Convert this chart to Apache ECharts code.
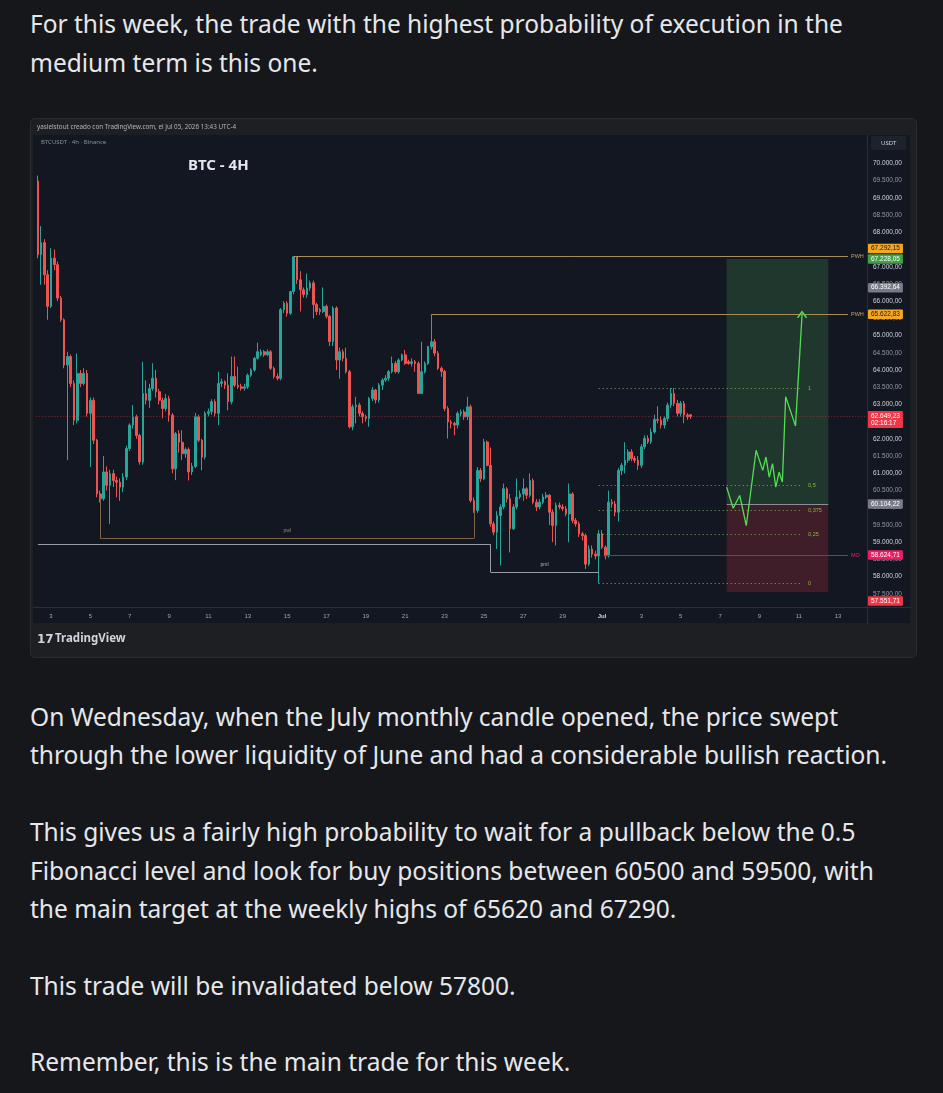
<!DOCTYPE html>
<html>
<head>
<meta charset="utf-8">
<script src="https://cdn.jsdelivr.net/npm/echarts@6/dist/echarts.min.js"></script>
<style>
  body { margin: 0; width: 943px; height: 1093px; overflow: hidden; background: #16171b;
         font-family: 'Noto Sans', 'Open Sans', sans-serif; color: #e6e7ea; }
  .ln { position: absolute; left: 30px; height: 38px; line-height: 38px; font-size: 24.5px; white-space: nowrap; }
  .card { position: absolute; left: 30px; top: 118px; width: 885px; height: 538px;
          background: #1e1f23; border: 1px solid #2b2c30; border-radius: 5px; }
  .plot { position: absolute; left: 2px; top: 16px; width: 877px; height: 488px; background: #131722; }
  #chart { position: absolute; left: -1px; top: -1px; width: 887px; height: 540px; }
</style>
</head>
<body>
<div class="ln" style="top:5px">For this week, the trade with the highest probability of execution in the</div>
<div class="ln" style="top:44px">medium term is this one.</div>

<div class="card">
  <div class="plot"></div>
  <div id="chart"></div>
</div>

<div class="ln" style="top:698px">On Wednesday, when the July monthly candle opened, the price swept</div>
<div class="ln" style="top:736px">through the lower liquidity of June and had a considerable bullish reaction.</div>
<div class="ln" style="top:813px">This gives us a fairly high probability to wait for a pullback below the 0.5</div>
<div class="ln" style="top:852px">Fibonacci level and look for buy positions between 60500 and 59500, with</div>
<div class="ln" style="top:890px">the main target at the weekly highs of 65620 and 67290.</div>
<div class="ln" style="top:967px">This trade will be invalidated below 57800.</div>
<div class="ln" style="top:1043px">Remember, this is the main trade for this week.</div>

<script>
// 4h bars, first bar 2026-06-02 08:00
const startTime = Date.UTC(2026, 5, 2, 8)
const barCount = 253
const categories = []
for (let i = 0; i < barCount; i++) {
  const d = new Date(startTime + i * 4 * 3600 * 1000)
  const p = n => String(n).padStart(2, '0')
  categories.push(p(d.getUTCMonth() + 1) + '-' + p(d.getUTCDate()) + ' ' + p(d.getUTCHours()) + ':00')
}

const xTickDates = ['06-03', '06-05', '06-07', '06-09', '06-11', '06-13', '06-15', '06-17', '06-19', '06-21',
  '06-23', '06-25', '06-27', '06-29', '07-01', '07-03', '07-05', '07-07', '07-09', '07-11', '07-13']
const xTickLabels = ['3', '5', '7', '9', '11', '13', '15', '17', '19', '21',
  '23', '25', '27', '29', 'Jul', '3', '5', '7', '9', '11', '13']

const yTicks = [57500, 58000, 58500, 59000, 59500, 60000, 60500, 61000, 61500, 62000, 62500, 63000,
  63500, 64000, 64500, 65000, 65500, 66000, 66500, 67000, 67500, 68000, 68500, 69000, 69500, 70000]

// [open, close, low, high]
const candles = [
  [69490, 67350, 67250, 69650], [67350, 67700, 66480, 68180], [67700, 66770, 66480, 67800], [66770, 65850, 65460, 66900],
  [65850, 67250, 65800, 67540], [67250, 67060, 66900, 67500], [67060, 66090, 66000, 67150], [66090, 65460, 65400, 66150],
  [65460, 64145, 64050, 65500], [64145, 64390, 61380, 64530], [64390, 63610, 63500, 64450], [63610, 62540, 62400, 63700],
  [62540, 63900, 62450, 64480], [63900, 63610, 63500, 64000], [63610, 63900, 63550, 64050], [63900, 62740, 62650, 64000],
  [62740, 63120, 61180, 63200], [63120, 61960, 61850, 63200], [61960, 60400, 60300, 62000], [60400, 60260, 60150, 60500],
  [60260, 61040, 60200, 61500], [61040, 60650, 60500, 61200], [60650, 60990, 59530, 61100], [60990, 60790, 60600, 61100],
  [60790, 60740, 60300, 60900], [60740, 60600, 60200, 60850], [60600, 60890, 60450, 61000], [60890, 61720, 60800, 61800],
  [61720, 62400, 61650, 62450], [62400, 62640, 62300, 62980], [62640, 62100, 62000, 62700], [62100, 61330, 61250, 62150],
  [61330, 63320, 61250, 64240], [63320, 63120, 63000, 63700], [63120, 63460, 62900, 63600], [63460, 63760, 63400, 64200],
  [63760, 63370, 63200, 64000], [63370, 63120, 63000, 63450], [63120, 62880, 62600, 63200], [62880, 63170, 62800, 63300],
  [63170, 62690, 62500, 63250], [62690, 61130, 61000, 62750], [61130, 62150, 60800, 62200], [62150, 61900, 61600, 62250],
  [61900, 61570, 61380, 62250], [61570, 61690, 61450, 61750], [61690, 61040, 60790, 61750], [61040, 61200, 60950, 61300],
  [61200, 62640, 61150, 62750], [62640, 61960, 61900, 62700], [61960, 61470, 61085, 62000], [61470, 62740, 61400, 62800],
  [62740, 62790, 62650, 62880], [62790, 63080, 62700, 63150], [63080, 62740, 62650, 63150], [62740, 63610, 62400, 63950],
  [63610, 63660, 63500, 63750], [63660, 63560, 63450, 63700], [63560, 63080, 62830, 63900], [63080, 63810, 63000, 64390],
  [63810, 63560, 63500, 64390], [63560, 63510, 63450, 64100], [63510, 63470, 63400, 63600], [63470, 63510, 63400, 63600],
  [63510, 63850, 63450, 63900], [63850, 64000, 63800, 64050], [64000, 64340, 63950, 64380], [64340, 64530, 64300, 64800],
  [64440, 64530, 64400, 64600], [64530, 64440, 64380, 64580], [64440, 64530, 64400, 64600], [64530, 64050, 64000, 64580],
  [64050, 63810, 63750, 64100], [63810, 63760, 63700, 63900], [63760, 65750, 63700, 65800], [65750, 65940, 65650, 66000],
  [65940, 65650, 65550, 66000], [65650, 66280, 65600, 66300], [66280, 67290, 66200, 67292], [67290, 66620, 66500, 67300],
  [66620, 66330, 65700, 66870], [66330, 66190, 66100, 66400], [66190, 66380, 66100, 66800], [66380, 66530, 66300, 66600],
  [66530, 65900, 65500, 66600], [65900, 65700, 65600, 65950], [65750, 65700, 65600, 65800], [65700, 65850, 65650, 66400],
  [65850, 65560, 65500, 65900], [65560, 64830, 64700, 65600], [64830, 65800, 64700, 65850], [65800, 64290, 64000, 65850],
  [64290, 64530, 63750, 64650], [64530, 64340, 64250, 64600], [64340, 63950, 63900, 64650], [63950, 62350, 62300, 64000],
  [62350, 62930, 62250, 63000], [62930, 62980, 62450, 63220], [62980, 62740, 62650, 63050], [62740, 62640, 62450, 62800],
  [62640, 62590, 62500, 62700], [62590, 63170, 62350, 63220], [63170, 63420, 63100, 63510], [63420, 63130, 63030, 63450],
  [63130, 63560, 63050, 63620], [63560, 63710, 63420, 63760], [63710, 63760, 63650, 63850], [63760, 63950, 63680, 64000],
  [63950, 64190, 63900, 64390], [64190, 63950, 63900, 64260], [63950, 64290, 63900, 64340], [64290, 64440, 64250, 64480],
  [64440, 64190, 64150, 64580], [64240, 64190, 64150, 64300], [64190, 64240, 64100, 64340], [64240, 64190, 63950, 64290],
  [64190, 63320, 63300, 64250], [63320, 63950, 63300, 64820], [63950, 64190, 63900, 64250], [64190, 64680, 64150, 64700],
  [64680, 64820, 64600, 65622], [64820, 64490, 64400, 64900], [64490, 64050, 64000, 64550], [64050, 63960, 63800, 64100],
  [63960, 62880, 62800, 64000], [62880, 62490, 62010, 62950], [62490, 62450, 62300, 62550], [62450, 62400, 62100, 62500],
  [62400, 62740, 62300, 62800], [62740, 62780, 62650, 62850], [62780, 62640, 62550, 62850], [62640, 62930, 62550, 63220],
  [62930, 60210, 60150, 63000], [60210, 59920, 59850, 60300], [59920, 61080, 59850, 61180], [61080, 60840, 60750, 61150],
  [60840, 61910, 60800, 62000], [61910, 61230, 61200, 61950], [61230, 59530, 59450, 61750], [59530, 59290, 59200, 59600],
  [59290, 59770, 58800, 59900], [59770, 60020, 58320, 60100], [60020, 60550, 59950, 60700], [60550, 60260, 60150, 60600],
  [60260, 59390, 58700, 60400], [59390, 60020, 59350, 60100], [60020, 60310, 59950, 60850], [60310, 60400, 60250, 60500],
  [60400, 60550, 60200, 60850], [60550, 60360, 60250, 60600], [60360, 60790, 60300, 61000], [60790, 60160, 60100, 60850],
  [60160, 60020, 59900, 60250], [60020, 60160, 59950, 60250], [60160, 60310, 60100, 60400], [60310, 60360, 60250, 60450],
  [60360, 59870, 59500, 60400], [59870, 59480, 59000, 59950], [59480, 60070, 58900, 60150], [60070, 60020, 59950, 60150],
  [60020, 59970, 59900, 60100], [59970, 59820, 59750, 60050], [59820, 60400, 59000, 60700], [60400, 59630, 59550, 60450],
  [59630, 59530, 59450, 59700], [59530, 59240, 59150, 59600], [59240, 59190, 59050, 59300], [59190, 58360, 58220, 59250],
  [58360, 58800, 58300, 58900], [58800, 58650, 58550, 58900], [58650, 58600, 58500, 58750], [58600, 59240, 57800, 59350],
  [59240, 58850, 58800, 59350], [58850, 58600, 58500, 58900], [58600, 60160, 58550, 60500], [60160, 60110, 60000, 60250],
  [60110, 59870, 59750, 60200], [59870, 61080, 59600, 61150], [61080, 61230, 60950, 61300], [61230, 61380, 61000, 61900],
  [61380, 61620, 61300, 61700], [61620, 61430, 61350, 61700], [61430, 61380, 61300, 61500], [61380, 61230, 61100, 61500],
  [61230, 61770, 61150, 61850], [61770, 62010, 61700, 62100], [62010, 61910, 61850, 62100], [61910, 62200, 61850, 62300],
  [62200, 62560, 62150, 62700], [62560, 62540, 62450, 62950], [62540, 62400, 62300, 62650], [62400, 62590, 62300, 62650],
  [62590, 62980, 62500, 63050], [62980, 63320, 62900, 63475], [63320, 63030, 62950, 63475], [63030, 62740, 62650, 63130],
  [62740, 63030, 62650, 63100], [63030, 62690, 62450, 63100], [62690, 62640, 62550, 62750], [62700, 62649, 62580, 62720]
]

// hand-drawn projection path (bar index, price)
const projIdx = [210, 212, 214, 216, 219, 221, 222, 223, 224, 225, 226, 227, 228, 231, 233]
const projVal = [60598, 59985, 60356, 59481, 61668, 61085, 61472, 60889, 61280, 60598, 61035, 60743, 63222, 62376, 65603]

// levels
const pwhHigh = 67292.15
const pwhLow = 65622.83
const pwl = 59110
const prevLow = 58940
const pml = 58130
const monthOpen = 58624.71
const lastPrice = 62649.23
const fibHigh = 63475
const fibLow = 57800
const fibLevels = [1, 0.5, 0.375, 0.25, 0]
const fibLabels = ['1', '0,5', '0,375', '0,25', '0']
const entry = 60104.22
const target = 67228.05
const stop = 57551.71
const greyTag = 66392.64

function fmt(v) {
  const parts = v.toFixed(2).split('.')
  return parts[0].replace(/\B(?=(\d{3})+(?!\d))/g, '.') + ',' + parts[1]
}

const tickMap = {}
xTickDates.forEach((d, i) => { tickMap[d + ' 00:00'] = xTickLabels[i] })

const chart = echarts.init(document.getElementById('chart'))

const seg = (x1, y1, x2, y2, color, extra) => [
  Object.assign({ coord: [x1, y1], lineStyle: { color: color, width: 1, type: 'solid' }, label: { show: false } }, extra || {}),
  { coord: [x2, y2] }
]

const tag = (value, at, bg, fg, text) => ({
  yAxis: at,
  lineStyle: { color: 'transparent', width: 0 },
  label: {
    show: true, position: 'end', distance: 2, formatter: text || fmt(value),
    backgroundColor: bg, color: fg, fontSize: 6.5, lineHeight: 7.5, padding: [1, 3, 1, 3], borderRadius: 1
  }
})

const lineColor = '#a98d5a'
const fibColor = '#6fb84a'

const markLines = [
  // current price dotted line
  { yAxis: lastPrice, lineStyle: { color: 'rgba(242,54,69,0.5)', type: [1, 2], width: 1 }, label: { show: false } },
  // previous week highs
  seg(78, pwhHigh, 247, pwhHigh, lineColor, { label: { show: true, position: 'end', formatter: 'PWH', color: '#c9a15a', fontSize: 5.5, distance: 3 } }),
  seg(120, pwhLow, 247, pwhLow, lineColor, { label: { show: true, position: 'end', formatter: 'PWH', color: '#c9a15a', fontSize: 5.5, distance: 3 } }),
  // previous week low
  seg(19, 60300, 19, pwl, '#7d6444'),
  seg(19, pwl, 133, pwl, '#7d6444', { label: { show: true, position: 'middle', formatter: 'pwl', color: '#a08666', fontSize: 5, backgroundColor: '#131722', padding: [0, 2] } }),
  seg(133, 59920, 133, pwl, '#7d6444'),
  // previous month low
  seg(0, prevLow, 138, prevLow, '#9a9ca3'),
  seg(138, prevLow, 138, pml, '#9a9ca3'),
  seg(138, pml, 171, pml, '#9a9ca3', { label: { show: true, position: 'middle', formatter: 'pml', color: '#b2b5be', fontSize: 5, backgroundColor: '#131722', padding: [0, 2] } }),
  // monthly open
  seg(173, monthOpen, 247, monthOpen, '#c2185b', { label: { show: true, position: 'end', formatter: 'MO', color: '#d0306a', fontSize: 5.5, distance: 3 } }),
  // position divider
  seg(210, entry, 241, entry, '#8c8f99')
]

fibLevels.forEach((f, i) => {
  const v = fibLow + (fibHigh - fibLow) * f
  markLines.push(seg(171, v, 233, v, fibColor, {
    lineStyle: { color: fibColor, type: [1, 3], width: 1 },
    label: { show: true, position: 'end', formatter: fibLabels[i], color: '#8fb83c', fontSize: 5.5, distance: 6 }
  }))
})

// price axis tags
markLines.push(
  tag(pwhHigh, 67530, '#f5a623', '#1a1a1a'),
  tag(target, target, '#43a047', '#ffffff'),
  tag(greyTag, greyTag, '#787b86', '#ffffff'),
  tag(pwhLow, pwhLow, '#f5a623', '#1a1a1a'),
  tag(lastPrice, 62560, '#f23645', '#ffffff', fmt(lastPrice) + '\n02:16:17'),
  tag(entry, entry, '#787b86', '#ffffff'),
  tag(monthOpen, monthOpen, '#e91e63', '#ffffff'),
  tag(stop, 57289, '#f23645', '#ffffff')
)

const projData = projIdx.map((x, i) => [x, projVal[i]])
projData[projData.length - 1] = {
  value: projData[projData.length - 1],
  symbolSize: [9, 6]
}

const option = {
  animation: false,
  grid: { left: 6.25, right: 51, top: 18, bottom: 51 },
  xAxis: {
    type: 'category',
    data: categories,
    boundaryGap: true,
    axisLine: { show: false },
    axisTick: { show: false },
    splitLine: { show: false },
    axisLabel: {
      interval: (idx, val) => tickMap[val] !== undefined,
      formatter: val => tickMap[val] === 'Jul' ? '{b|Jul}' : tickMap[val],
      color: '#a3a6af',
      fontSize: 6,
      margin: 6,
      rich: { b: { color: '#d1d4dc', fontSize: 6, fontWeight: 'bold' } }
    }
  },
  yAxis: {
    type: 'value',
    position: 'right',
    min: 57115,
    max: 70798,
    axisLine: { show: false },
    axisTick: { show: false },
    splitLine: { show: false },
    axisLabel: {
      customValues: yTicks,
      margin: 7,
      fontSize: 6.5,
      formatter: v => v % 1000 === 0 ? '{a|' + fmt(v) + '}' : '{b|' + fmt(v) + '}',
      rich: {
        a: { color: '#d1d4dc', fontSize: 6.5 },
        b: { color: '#9598a1', fontSize: 6.5 }
      }
    }
  },
  graphic: [
    { type: 'text', left: 7, top: 6, style: { text: 'yaslelstout creado con TradingView.com, el Jul 05, 2026 13:43 UTC-4', fill: '#b2b5be', fontSize: 6.3, fontFamily: 'Noto Sans' } },
    { type: 'text', left: 11, top: 21, style: { text: 'BTCUSDT · 4h · Binance', fill: '#8c8f99', fontSize: 6, fontFamily: 'Noto Sans' } },
    { type: 'text', left: 158, top: 40, style: { text: 'BTC - 4H', fill: '#e6e8ee', fontSize: 15, fontWeight: 'bold', fontFamily: 'Noto Sans' } },
    { type: 'rect', left: 841, top: 18, shape: { width: 35, height: 14, r: 2 }, style: { fill: '#1e222d' } },
    { type: 'text', left: 851, top: 22, style: { text: 'USDT', fill: '#d1d4dc', fontSize: 6, fontFamily: 'Noto Sans' } },
    { type: 'line', shape: { x1: 837.5, y1: 17, x2: 837.5, y2: 506 }, style: { stroke: '#2a2e39', lineWidth: 1 } },
    { type: 'line', shape: { x1: 3, y1: 489.5, x2: 881, y2: 489.5 }, style: { stroke: '#2a2e39', lineWidth: 1 } },
    { type: 'text', left: 7, top: 516, style: { text: '17', fill: '#d1d4dc', fontSize: 12, fontWeight: 900, fontFamily: 'DejaVu Sans' } },
    { type: 'text', left: 25, top: 515, style: { text: 'TradingView', fill: '#d1d4dc', fontSize: 11.5, fontWeight: 'bold', fontFamily: 'Noto Sans' } }
  ],
  series: [
    {
      name: 'BTCUSDT',
      type: 'candlestick',
      data: candles,
      barWidth: '65%',
      itemStyle: { color: '#26a69a', color0: '#ef5350', borderColor: '#26a69a', borderColor0: '#ef5350', borderWidth: 1 }
    },
    {
      name: 'projection',
      type: 'line',
      data: projData,
      showSymbol: true,
      symbol: 'path://M0,8 L5,0 L10,8',
      symbolSize: 0,
      symbolKeepAspect: false,
      itemStyle: { color: 'transparent', borderColor: '#52e052', borderWidth: 1.4 },
      lineStyle: { color: '#52e052', width: 1.3 },
      z: 5
    },
    {
      name: 'drawings',
      type: 'line',
      data: [],
      markArea: {
        silent: true,
        data: [
          [{ coord: [210, target], itemStyle: { color: 'rgba(76,175,80,0.22)' } }, { coord: [241, entry] }],
          [{ coord: [210, entry], itemStyle: { color: 'rgba(242,54,69,0.2)' } }, { coord: [241, stop] }]
        ]
      },
      markLine: {
        silent: true,
        symbol: ['none', 'none'],
        data: markLines
      },
      z: 3
    }
  ]
}

chart.setOption(option)
</script>
</body>
</html>
